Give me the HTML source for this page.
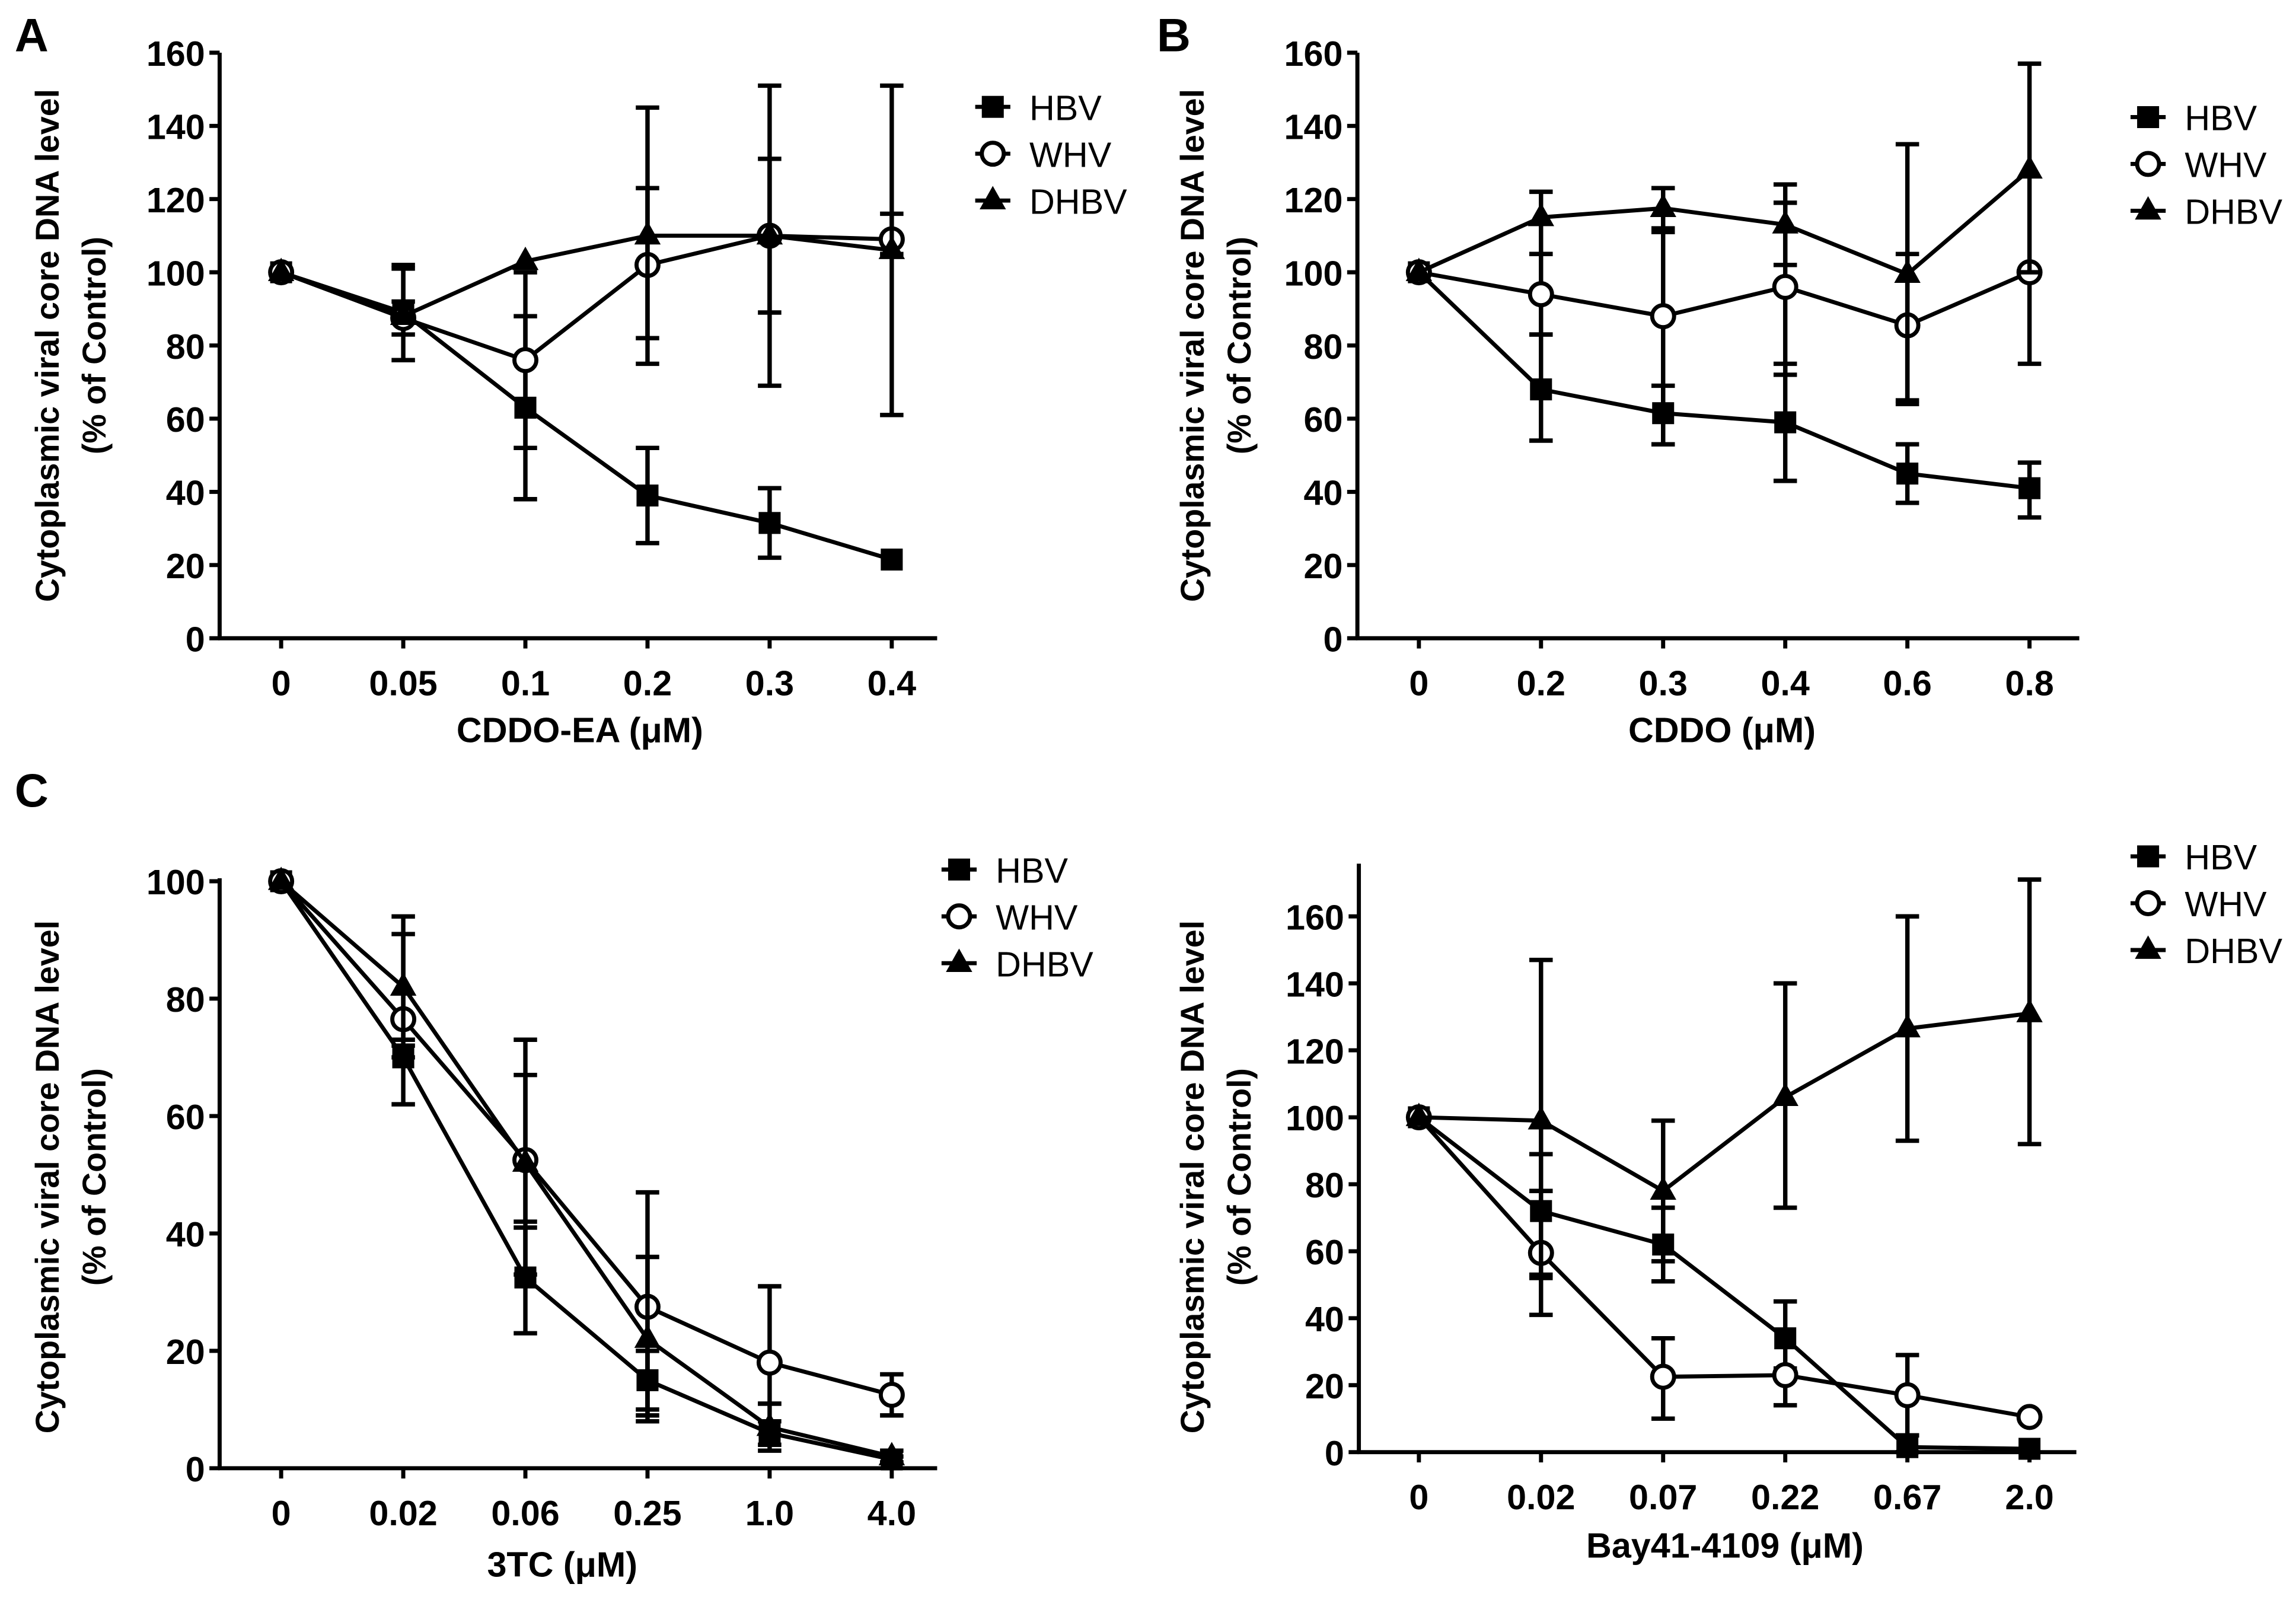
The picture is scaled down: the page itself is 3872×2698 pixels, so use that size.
<!DOCTYPE html>
<html><head><meta charset="utf-8">
<style>
html,body{margin:0;padding:0;background:#fff;}
svg{display:block;}
text{fill:#000;}
.tick{font-family:"Liberation Sans Narrow","Liberation Sans",sans-serif;font-weight:bold;font-size:24px;}
.ttl{font-family:"Liberation Sans Narrow","Liberation Sans",sans-serif;font-weight:bold;font-size:24px;}
.ylab{font-family:"Liberation Sans",sans-serif;font-weight:bold;font-size:22.5px;}
.leg{font-family:"Liberation Sans Narrow","Liberation Sans",sans-serif;font-size:24px;}
.letter{font-family:"Liberation Sans",sans-serif;font-weight:bold;font-size:32px;}
</style></head>
<body>
<svg id="fig" width="3872" height="2698" viewBox="0 0 1568 1093" preserveAspectRatio="none" xmlns="http://www.w3.org/2000/svg"></svg>
<script>
// Panel A
const catsA = ["0","0.05","0.1","0.2","0.3","0.4"];
const hbvA = [100,89,63,39,31.5,21.5];
const hbvALo = [100,83,38,26,22,21.5];
const hbvAHi = [100,92,88,52,41,21.5];
const whvA = [100,87.5,76,102,110,109];
const whvALo = [100,76,52,82,89,105];
const whvAHi = [100,101,100,123,131,116];
const dhbvA = [100,88,103,110,110,106];
const dhbvALo = [100,88,103,75,69,61];
const dhbvAHi = [100,102,103,145,151,151];
const ticksA = [0,20,40,60,80,100,120,140,160];
// Panel B
const catsB = ["0","0.2","0.3","0.4","0.6","0.8"];
const hbvB = [100,68,61.5,59,45,41];
const hbvBLo = [100,54,53,43,37,33];
const hbvBHi = [100,83,69,75,53,48];
const whvB = [100,94,88,96,85.5,100];
const whvBLo = [100,83,53,72,65,75];
const whvBHi = [100,105,111,119,105,100];
const dhbvB = [100,115,117.5,113,99.5,128];
const dhbvBLo = [100,105,112,102,64,100];
const dhbvBHi = [100,122,123,124,135,157];
const ticksB = [0,20,40,60,80,100,120,140,160];
// Panel C
const catsC = ["0","0.02","0.06","0.25","1.0","4.0"];
const hbvC = [100,70,32.5,15,6,1.5];
const hbvCLo = [100,62,23,8,3,1];
const hbvCHi = [100,72,41,20,8,2];
const whvC = [100,76.5,52.5,27.5,18,12.5];
const whvCLo = [100,70,42,10,11,9];
const whvCHi = [100,91,73,47,31,16];
const dhbvC = [100,82,52,22,7,2];
const dhbvCLo = [100,73,33,9,4,1];
const dhbvCHi = [100,94,67,36,11,3];
const ticksC = [0,20,40,60,80,100];
// Panel D
const catsD = ["0","0.02","0.07","0.22","0.67","2.0"];
const hbvD = [100,72,62,34,1.5,1];
const hbvDLo = [100,53,51,25,0,1];
const hbvDHi = [100,78,73,45,5,1];
const whvD = [100,59.5,22.5,23,17,10.5];
const whvDLo = [100,41,10,14,5,10.5];
const whvDHi = [100,89,34,23,29,10.5];
const dhbvD = [100,99,78,106,126.5,131];
const dhbvDLo = [100,52,57,73,93,92];
const dhbvDHi = [100,147,99,140,160,171];
const ticksD = [0,20,40,60,80,100,120,140,160];

const NS="http://www.w3.org/2000/svg";
const svg=document.getElementById('fig');
function mk(tag,attrs,parent){const e=document.createElementNS(NS,tag);for(const k in attrs)e.setAttribute(k,attrs[k]);(parent||svg).appendChild(e);return e;}

function panel(p){
  const g=mk('g',{});
  
  
  const yS=v=>p.y0-(v-0)*(p.y0-p.y1)/(p.ymaxTick);
  const xS=i=>p.x0c+i*p.dx;
  const ya=mk('line',{x1:p.ax,y1:yS(0)+1,x2:p.ax,y2:p.yTop,stroke:'#000','stroke-width':2.8},g);
  
  
  const xa=mk('line',{x1:p.ax-1,y1:yS(0),x2:p.axEnd,y2:yS(0),stroke:'#000','stroke-width':2.8},g);
  
  
  p.ticks.forEach(t=>{
    mk('line',{x1:p.ax-7,y1:yS(t),x2:p.ax,y2:yS(t),stroke:'#000','stroke-width':2.8},g);
    const tx=mk('text',{x:p.ax-10,y:yS(t)+9,'text-anchor':'end',class:'tick'},g);
    tx.textContent=t;
    
    
  });
  p.cats.forEach((c,i)=>{
    mk('line',{x1:xS(i),y1:yS(0),x2:xS(i),y2:yS(0)+7,stroke:'#000','stroke-width':2.8},g);
    const tx=mk('text',{x:xS(i),y:yS(0)+39,'text-anchor':'middle',class:'tick'},g);
    tx.textContent=c;
    
    
  });
  const xt=mk('text',{x:p.xtx,y:p.xty,'text-anchor':'middle',class:'ttl'},g);
  xt.textContent=p.xtitle;
  
  
  const yt=mk('text',{x:0,y:0,'text-anchor':'middle',class:'ylab',transform:`translate(${p.ylx},${p.yly}) rotate(-90)`},g);
  yt.textContent='Cytoplasmic viral core DNA level';
  
  
  const yt2=mk('text',{x:0,y:0,'text-anchor':'middle',class:'ylab',transform:`translate(${p.ylx+32},${p.yly}) rotate(-90)`},g);
  yt2.textContent='(% of Control)';
  
  
  if(p.letter){
    const L=mk('text',{x:p.lx,y:p.ly,class:'letter'},g);
    L.textContent=p.letter;
    
    
  }
  function marker(type,x,y,par){
    let m;
    if(type==='sq') m=mk('rect',{x:x-7.5,y:y-7.5,width:15,height:15,fill:'#000'},par);
    else if(type==='ci') m=mk('circle',{cx:x,cy:y,r:7.5,fill:'#fff',stroke:'#000','stroke-width':2.8},par);
    else m=mk('polygon',{points:`${x},${y-10} ${x+9},${y+6} ${x-9},${y+6}`,fill:'#000'},par);
    return m;
  }
  p.series.forEach(s=>{
    const sg=mk('g',{},g);
    
    
    s.v.forEach((v,i)=>{
      const lo=s.lo[i],hi=s.hi[i];
      if(hi-lo<0.5) return;
      const x=xS(i);
      const eb=mk('path',{d:`M${x},${yS(lo)}V${yS(hi)}M${x-8},${yS(lo)}H${x+8}M${x-8},${yS(hi)}H${x+8}`,stroke:'#000','stroke-width':3,fill:'none'},sg);
      
      
    });
    const d=s.v.map((v,i)=>(i?'L':'M')+xS(i)+','+yS(v)).join('');
    const ln=mk('path',{d:d,stroke:'#000','stroke-width':2.8,fill:'none'},sg);
    
    
    s.v.forEach((v,i)=>{
      const m=marker(s.m,xS(i),yS(v),sg);
      
      
    });
  });
  p.series.forEach((s,k)=>{
    const lg=mk('g',{},g);
    
    
    const y=p.legY+k*p.legDy;
    mk('line',{x1:p.legX-12,y1:y,x2:p.legX+12,y2:y,stroke:'#000','stroke-width':2.8},lg);
    marker(s.m,p.legX,y,lg);
    const t=mk('text',{x:p.legX+25,y:y+9,class:'leg'},lg);
    t.textContent=s.label;
  });
}

panel({name:'panel-a',letter:'A',lx:10,ly:35,ax:150,axEnd:640,y0:436,y1:36,ymaxTick:160,yTop:36,x0c:192,dx:83.4,
  ticks:ticksA,cats:catsA,xtitle:'CDDO-EA (μM)',xtx:396,xty:507,ylx:40,yly:236,legX:678,legY:73,legDy:32,
  series:[{key:'hbv',label:'HBV',m:'sq',v:hbvA,lo:hbvALo,hi:hbvAHi},{key:'whv',label:'WHV',m:'ci',v:whvA,lo:whvALo,hi:whvAHi},{key:'dhbv',label:'DHBV',m:'tr',v:dhbvA,lo:dhbvALo,hi:dhbvAHi}]});
panel({name:'panel-b',letter:'B',lx:790,ly:35,ax:927,axEnd:1420,y0:436,y1:36,ymaxTick:160,yTop:36,x0c:969,dx:83.4,
  ticks:ticksB,cats:catsB,xtitle:'CDDO (μM)',xtx:1176,xty:507,ylx:822,yly:236,legX:1467,legY:80,legDy:32,
  series:[{key:'hbv',label:'HBV',m:'sq',v:hbvB,lo:hbvBLo,hi:hbvBHi},{key:'whv',label:'WHV',m:'ci',v:whvB,lo:whvBLo,hi:whvBHi},{key:'dhbv',label:'DHBV',m:'tr',v:dhbvB,lo:dhbvBLo,hi:dhbvBHi}]});
panel({name:'panel-c',letter:'C',lx:10,ly:551,ax:150,axEnd:640,y0:1003,y1:602,ymaxTick:100,yTop:600,x0c:192,dx:83.4,
  ticks:ticksC,cats:catsC,xtitle:'3TC (μM)',xtx:384,xty:1077,ylx:40,yly:804,legX:655,legY:594,legDy:32,
  series:[{key:'hbv',label:'HBV',m:'sq',v:hbvC,lo:hbvCLo,hi:hbvCHi},{key:'whv',label:'WHV',m:'ci',v:whvC,lo:whvCLo,hi:whvCHi},{key:'dhbv',label:'DHBV',m:'tr',v:dhbvC,lo:dhbvCLo,hi:dhbvCHi}]});
panel({name:'panel-d',letter:null,ax:928,axEnd:1418,y0:992,y1:626,ymaxTick:160,yTop:590,x0c:969,dx:83.4,
  ticks:ticksD,cats:catsD,xtitle:'Bay41-4109 (μM)',xtx:1178,xty:1064,ylx:822,yly:804,legX:1467,legY:585,legDy:32,
  series:[{key:'hbv',label:'HBV',m:'sq',v:hbvD,lo:hbvDLo,hi:hbvDHi},{key:'whv',label:'WHV',m:'ci',v:whvD,lo:whvDLo,hi:whvDHi},{key:'dhbv',label:'DHBV',m:'tr',v:dhbvD,lo:dhbvDLo,hi:dhbvDHi}]});
</script>
</body></html>
